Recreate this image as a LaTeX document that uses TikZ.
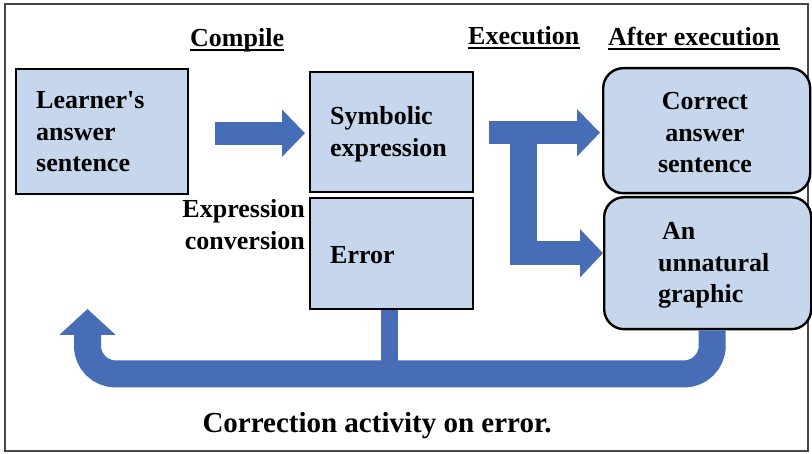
\documentclass[tikz,border=0pt]{standalone}
\usepackage{fontspec}
\setmainfont{Liberation Serif}
\usetikzlibrary{calc,arrows.meta}
\definecolor{boxfill}{RGB}{198,214,236}
\definecolor{flow}{RGB}{70,109,181}
\definecolor{framegray}{RGB}{70,70,70}
% multi-line label whose reference point is the first baseline
\newcommand{\textlines}[2]{\begin{tabular}[t]{@{}#1@{}}#2\end{tabular}}

\begin{document}
\begin{tikzpicture}[x=1pt,y=-1pt,
  box/.style={draw=black, line width=2.4pt, fill=boxfill, inner sep=0pt, anchor=north west},
  rbox/.style={box, rounded corners=20pt},
  txt/.style={font=\fontsize{26}{31.5}\selectfont\bfseries, inner sep=0pt},
  bigtxt/.style={font=\fontsize{29}{34}\selectfont\bfseries, inner sep=0pt},
  ulinestyle/.style={line width=2pt, black},
  fatA/.style={draw=flow, line width=23pt, -{Triangle[width=46pt,length=23pt]}},
  fatB/.style={draw=flow, line width=24pt, -{Triangle[width=47pt,length=23pt]}},
  band/.style={draw=flow, line width=27pt, rounded corners=28pt, -{Triangle[width=55pt,length=26pt]}},
  stem/.style={draw=flow, line width=17pt}]

\useasboundingbox (0,0) rectangle (812,454);
\fill[white] (0,0) rectangle (812,454);
\draw[framegray, line width=1.6pt] (5,4) rectangle (808,451);

% boxes
\node[box, minimum width=172pt, minimum height=125pt] (learner) at (15,68) {};
\node[box, minimum width=163pt, minimum height=120pt] (symb) at (309,71) {};
\node[box, minimum width=163pt, minimum height=111pt] (err) at (309,197) {};
\node[rbox, minimum width=207pt, minimum height=125pt] (correct) at (602,67) {};
\node[rbox, minimum width=207pt, minimum height=132pt] (unnat) at (603,196) {};

% box texts
\node[txt, anchor=base west] (learner-t) at (36,109) {\textlines{l}{Learner\textquotesingle s\\answer\\sentence}};
\node[txt, anchor=base west] (symb-t) at (330,125) {\textlines{l}{Symbolic\\expression}};
\node[txt, anchor=base west] (err-t) at (330,264) {Error};
\node[txt, anchor=base] (correct-t) at (705,110) {\textlines{c}{Correct\\answer\\sentence}};
\node[txt, anchor=base west] (unnat-t) at (658,240) {\textlines{l}{\hspace*{4pt}An\\unnatural\\graphic}};
\node[txt, anchor=base east] (conv-t) at (305,218) {\textlines{r}{Expression\\conversion}};

% stage headings
\node[txt, anchor=base west] (h-compile) at (190,47) {Compile};
\node[txt, anchor=base west] (h-exec) at (468,45) {Execution};
\node[txt, anchor=base west] (h-after) at (608,46) {After execution};
\foreach \h in {h-compile,h-exec,h-after}
  \draw[ulinestyle] ($(\h.base west)+(0,3)$) -- ($(\h.base east)+(0,3)$);

% compile arrow
\coordinate (cp-start) at ($(learner.east)+(26,1.5)$);
\draw[fatA] (cp-start) -- ($(cp-start -| symb.west)+(-4,0)$);

% execution arrows (T shape)
\coordinate (ex-corner) at ($(symb.east)+(36,-11)$);
\coordinate (ex-top) at ($(symb.east)+(15,0.5)$);
\coordinate (ex-low) at ($(ex-corner)+(0,132)$);
\fill[flow] (ex-corner) rectangle ($(ex-low)+(27,12)$);
\draw[fatA] (ex-top) -- ($(ex-top -| correct.west)+(-2,0)$);
\draw[fatB] (ex-low) -- (ex-low -| unnat.west);

% correction feedback loop
\coordinate (loop-r) at ($(unnat.south)+(4.5,0)$);
\coordinate (loop-l) at (87.5,309);
\draw[band] (loop-r) -- ++(0,43.5) -| (loop-l);
\draw[stem] ($(err.south)+(-2.5,0)$) -- ++(0,52);

\node[bigtxt, anchor=base] (caption) at (377,433) {Correction activity on error.};
\end{tikzpicture}
\end{document}
